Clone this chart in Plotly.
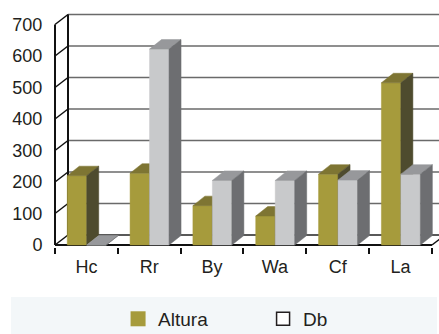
import plotly.graph_objects as go

# ---- data ----
categories = ["Hc", "Rr", "By", "Wa", "Cf", "La"]
altura = [220, 228, 125, 92, 225, 515]
db = [0, 622, 205, 205, 206, 225]
series_names = ["Altura", "Db"]
y_ticks = [0, 100, 200, 300, 400, 500, 600, 700]

# ---- style / geometry ----
PX_PER_CAT = 62.83
PX_PER_VAL = 0.315
WALL_DX = 13 / PX_PER_CAT
WALL_DY = 10 / PX_PER_VAL
BAR_DX = 12 / PX_PER_CAT
BAR_DY = 9.5 / PX_PER_VAL
BAR_OFFSET = 0.195
BAR_W = 0.31

COLORS = {
    "Altura": {"front": "#a69b3c", "top": "#7e7533", "side": "#4e4b2e"},
    "Db": {"front": "#c8c9cb", "top": "#97989b", "side": "#6d6e71"},
}
FONT = dict(family="Liberation Sans, Arial, sans-serif", size=18, color="#231f20")
LEGEND_FONT = dict(family="Liberation Sans, Arial, sans-serif", size=19, color="#231f20")

fig = go.Figure()


def add_lines(segments, color, width):
    xs, ys = [], []
    for (xa, ya), (xb, yb) in segments:
        xs += [xa, xb, None]
        ys += [ya, yb, None]
    fig.add_trace(go.Scatter(x=xs, y=ys, mode="lines", line=dict(color=color, width=width),
                             hoverinfo="skip", showlegend=False))


def add_polys(polys, color):
    xs, ys = [], []
    for poly in polys:
        for (px, py) in poly:
            xs.append(px)
            ys.append(py)
        xs.append(poly[0][0])
        ys.append(poly[0][1])
        xs.append(None)
        ys.append(None)
    fig.add_trace(go.Scatter(x=xs, y=ys, mode="lines", fill="toself", fillcolor=color,
                             line=dict(color=color, width=0.5), hoverinfo="skip",
                             showlegend=False))


n = len(categories)
# back wall gridlines
add_lines([((WALL_DX, t + WALL_DY), (n + WALL_DX + 0.3, t + WALL_DY)) for t in y_ticks if t > 0],
          "#6a6a6a", 1.5)
add_lines([((WALL_DX, WALL_DY), (n + WALL_DX + 0.3, WALL_DY))], "#222222", 1.5)
# side wall diagonals
add_lines([((0, t), (WALL_DX, t + WALL_DY)) for t in y_ticks], "#111111", 1.5)
# back vertical axis, front vertical axis, floor front edge, right floor diagonal
add_lines([((WALL_DX, WALL_DY), (WALL_DX, y_ticks[-1] + WALL_DY)),
           ((0, 0), (0, y_ticks[-1])),
           ((0, 0), (n, 0))], "#111111", 2)
add_lines([((n, 0), (n + WALL_DX, WALL_DY))], "#111111", 1.5)

# bars
for s, (name, vals) in enumerate(zip(series_names, [altura, db])):
    fronts, tops, sides = [], [], []
    for i, v in enumerate(vals):
        x0 = i + BAR_OFFSET + s * BAR_W
        x1 = x0 + BAR_W
        fronts.append([(x0, 0), (x1, 0), (x1, v), (x0, v)])
        tops.append([(x0, v), (x1, v), (x1 + BAR_DX, v + BAR_DY), (x0 + BAR_DX, v + BAR_DY)])
        sides.append([(x1, 0), (x1 + BAR_DX, BAR_DY), (x1 + BAR_DX, v + BAR_DY), (x1, v)])
    add_polys(fronts, COLORS[name]["front"])
    add_polys(tops, COLORS[name]["top"])
    add_polys(sides, COLORS[name]["side"])

# legend entries
fig.add_trace(go.Scatter(x=[None], y=[None], mode="markers", name="Altura",
                         marker=dict(symbol="square", size=15, color=COLORS["Altura"]["front"],
                                     line=dict(width=0))))
fig.add_trace(go.Scatter(x=[None], y=[None], mode="markers", name="Db",
                         marker=dict(symbol="square", size=13, color="white",
                                     line=dict(width=1.5, color="#231f20"))))

# legend background band
fig.add_shape(type="rect", xref="paper", yref="paper", x0=-0.1003, x1=0.9949, y0=-0.364, y1=-0.2092,
              fillcolor="#f3f7f9", line=dict(width=0), layer="below")

fig.update_layout(
    width=439, height=334,
    margin=dict(l=50, r=0, t=8, b=87, autoexpand=False),
    paper_bgcolor="white", plot_bgcolor="white",
    font=FONT,
    showlegend=True,
    legend=dict(orientation="h", x=0.175, xanchor="left", y=-0.301, yanchor="middle",
                entrywidth=100, entrywidthmode="pixels", bgcolor="rgba(0,0,0,0)",
                font=LEGEND_FONT),
    xaxis=dict(range=[-5 / PX_PER_CAT, 384 / PX_PER_CAT], tickmode="array",
               tickvals=[i + 0.5 for i in range(n)], ticktext=categories,
               ticks="outside", ticklen=3, tickcolor="rgba(0,0,0,0)",
               showgrid=False, zeroline=False, showline=False,
               minor=dict(tickmode="array", tickvals=list(range(n + 1)), ticks="outside",
                          ticklen=6, tickwidth=2, tickcolor="#111111", showgrid=False)),
    yaxis=dict(range=[-2 / PX_PER_VAL, 237 / PX_PER_VAL], tickmode="array", tickvals=y_ticks,
               ticks="outside", ticklen=3, tickcolor="rgba(0,0,0,0)",
               showgrid=False, zeroline=False, showline=False),
)

fig.write_html("out.html")
